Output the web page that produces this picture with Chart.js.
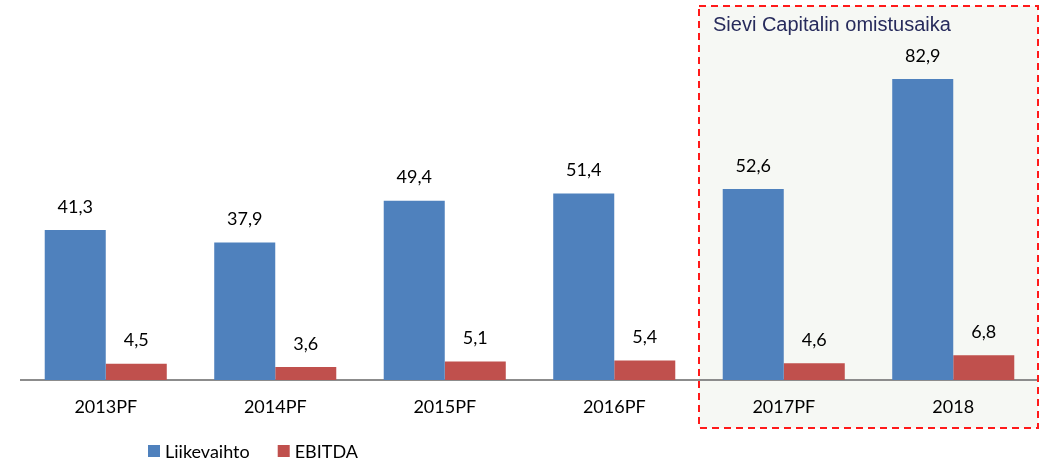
<!DOCTYPE html>
<html><head><meta charset="utf-8">
<script src="https://cdn.jsdelivr.net/npm/chart.js@4.4.1/dist/chart.umd.min.js"></script>
<style>html,body{margin:0;padding:0;background:#fff}#w{width:1048px;height:462px}</style>
</head><body><div id="w"><canvas id="c"></canvas></div>
<script>
const categories = ['2013PF','2014PF','2015PF','2016PF','2017PF','2018'];
const liikevaihto = [41.3, 37.9, 49.4, 51.4, 52.6, 82.9];
const ebitda = [4.5, 3.6, 5.1, 5.4, 4.6, 6.8];
const seriesNames = ['Liikevaihto','EBITDA'];
const boxTitle = 'Sievi Capitalin omistusaika';
const highlightFrom = 4;

const FONT = 'Lato, "Open Sans", sans-serif';
const fmt = v => v.toFixed(1).replace('.', ',');

function boxRect(chart) {
  const x = chart.scales.x;
  const half = (x.getPixelForValue(1) - x.getPixelForValue(0)) / 2;
  return { l: x.getPixelForValue(highlightFrom) - half, r: chart.chartArea.right, t: 6, b: 428 };
}

const boxPlugin = {
  id: 'box',
  beforeDraw(chart) {
    const ctx = chart.ctx, b = boxRect(chart);
    ctx.save();
    ctx.fillStyle = '#f6f8f4';
    ctx.fillRect(b.l, b.t, b.r - b.l, b.b - b.t);
    ctx.restore();
  },
  afterDraw(chart) {
    const ctx = chart.ctx, b = boxRect(chart);
    ctx.save();
    ctx.strokeStyle = '#ff1a1a';
    ctx.lineWidth = 2;
    ctx.setLineDash([7, 5]);
    ctx.strokeRect(b.l, b.t, b.r - b.l, b.b - b.t);
    ctx.setLineDash([]);
    ctx.fillStyle = '#272b5c';
    ctx.font = '20px "Liberation Sans", Arial, sans-serif';
    ctx.textBaseline = 'alphabetic';
    ctx.textAlign = 'left';
    ctx.fillText(boxTitle, b.l + 14, 31);
    // data labels
    ctx.fillStyle = '#000';
    ctx.font = '18px ' + FONT;
    ctx.textAlign = 'center';
    ctx.textBaseline = 'middle';
    chart.data.datasets.forEach((ds, i) => {
      chart.getDatasetMeta(i).data.forEach((bar, j) => {
        ctx.fillText(fmt(ds.data[j]), bar.x, bar.y - 23);
      });
    });
    // legend
    let lx = 148; const ly = 452;
    ctx.textAlign = 'left';
    chart.data.datasets.forEach(ds => {
      ctx.fillStyle = ds.backgroundColor;
      ctx.fillRect(lx, ly - 7, 12, 12);
      ctx.fillStyle = '#000';
      ctx.fillText(ds.label, lx + 17, ly);
      lx += 17 + ctx.measureText(ds.label).width + 28;
    });
    ctx.restore();
  }
};

new Chart(document.getElementById('c'), {
  type: 'bar',
  data: {
    labels: categories,
    datasets: [
      { label: seriesNames[0], data: liikevaihto, backgroundColor: '#4f81bd' },
      { label: seriesNames[1], data: ebitda, backgroundColor: '#c0504d' }
    ]
  },
  options: {
    responsive: true, maintainAspectRatio: false, animation: false,
    layout: { padding: { left: 21, right: 10, top: 17, bottom: 0 } },
    datasets: { bar: { categoryPercentage: 0.72, barPercentage: 1 } },
    plugins: { legend: { display: false }, tooltip: { enabled: false } },
    scales: {
      y: { display: false, min: 0, max: 100 },
      x: {
        grid: { display: false, drawTicks: false },
        border: { display: true, color: '#8c8c8c', width: 2 },
        ticks: { color: '#000', font: { family: FONT, size: 18 }, padding: 16 },
        afterFit(s) { s.height = 82; }
      }
    }
  },
  plugins: [boxPlugin]
});
</script></body></html>
